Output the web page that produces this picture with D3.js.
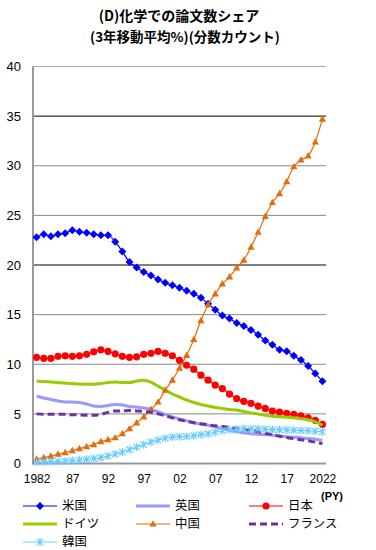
<!DOCTYPE html>
<html><head><meta charset="utf-8">
<script src="https://cdn.jsdelivr.net/npm/d3@7"></script>
<style>
body{margin:0;background:#fff;}
svg{display:block;}
</style>
</head><body>
<svg id="c" width="376" height="550"></svg>
<script>
const years = d3.range(1982, 2023);
const tickYears = [1982, 1987, 1992, 1997, 2002, 2007, 2012, 2017, 2022];
const tickLabels = ["1982", "87", "92", "97", "02", "07", "12", "17", "2022"];
const yTicks = [0, 5, 10, 15, 20, 25, 30, 35, 40];

const usa = [22.8,23.1,22.9,23.1,23.2,23.5,23.35,23.25,23.1,23.0,23.0,22.35,21.35,20.3,19.75,19.3,18.95,18.55,18.2,17.95,17.7,17.4,17.1,16.7,16.1,15.5,14.9,14.6,14.15,13.85,13.45,12.97,12.4,11.96,11.46,11.3,10.86,10.42,9.82,9.08,8.28];
const uk = [6.8,6.6,6.45,6.3,6.2,6.2,6.15,6.0,5.8,5.75,5.85,5.95,5.9,5.75,5.7,5.6,5.45,5.2,4.95,4.7,4.5,4.3,4.1,3.95,3.85,3.7,3.5,3.35,3.2,3.1,3.0,2.95,2.9,2.85,2.78,2.7,2.65,2.6,2.52,2.45,2.35];
const japan = [10.7,10.6,10.6,10.8,10.85,10.8,10.85,11.0,11.25,11.45,11.3,11.05,10.8,10.7,10.75,11.0,11.1,11.3,11.1,10.85,10.4,9.9,9.5,8.9,8.4,7.9,7.55,7.0,6.55,6.26,6.06,5.79,5.55,5.28,5.17,5.06,4.95,4.8,4.6,4.35,3.95];
const germany = [8.3,8.25,8.2,8.15,8.1,8.05,8.0,7.98,7.98,8.05,8.15,8.2,8.15,8.15,8.3,8.4,8.2,7.8,7.4,7.0,6.7,6.4,6.15,5.95,5.8,5.65,5.55,5.45,5.38,5.25,5.1,4.98,4.85,4.75,4.7,4.65,4.6,4.5,4.4,4.2,3.85];
const china = [0.45,0.6,0.75,0.95,1.1,1.3,1.5,1.7,1.9,2.2,2.4,2.6,3.0,3.5,4.1,4.7,5.45,6.2,7.4,8.4,9.6,10.9,12.5,14.4,16.0,17.1,18.1,18.8,19.7,20.5,21.8,23.3,24.9,26.3,27.2,28.4,29.9,30.6,31.0,32.4,34.7];
const france = [5.0,4.95,4.95,4.95,4.95,4.9,4.9,4.85,4.85,4.95,5.15,5.3,5.3,5.35,5.3,5.25,5.15,5.0,4.8,4.6,4.4,4.25,4.1,4.0,3.9,3.8,3.72,3.64,3.55,3.45,3.32,3.2,3.05,2.9,2.75,2.62,2.5,2.4,2.28,2.15,2.0];
const korea = [0.15,0.17,0.2,0.22,0.25,0.3,0.35,0.42,0.5,0.6,0.75,0.95,1.15,1.4,1.65,1.9,2.15,2.35,2.55,2.65,2.7,2.72,2.8,2.9,3.0,3.15,3.3,3.4,3.45,3.5,3.5,3.48,3.45,3.42,3.4,3.38,3.35,3.32,3.3,3.25,3.2];

const seriesNames = ["米国","英国","日本","ドイツ","中国","フランス","韓国"];
const seriesValues = [usa, uk, japan, germany, china, france, korea];
const seriesColors = ["#0000FF","#9999FF","#FF0000","#99CC00","#E46C0A","#7030A0","#66CCFF"];
const seriesWidths = [1.2, 3, 1.2, 3, 1.2, 3, 1.2];
const seriesDash = [null, null, null, null, null, "7,4", null];
const seriesMarker = ["diamond", null, "circle", null, "triangle", null, "star"];

const svg = d3.select("#c");
const L = 33, R = 326, T = 66.5, B = 463.5;
const x = d3.scalePoint().domain(years).range([L, R]).padding(0.5);
const y = d3.scaleLinear().domain([0, 40]).range([B, T]);

// title
const title = svg.append("g").attr("font-family", "'Noto Sans CJK JP', sans-serif")
  .attr("font-weight", "bold").attr("font-size", "14px").attr("fill", "#000").attr("text-anchor", "middle");
title.append("text").attr("x", 179).attr("y", 21).text("(D)化学での論文数シェア");
title.append("text").attr("x", 185).attr("y", 42).attr("font-size", "13.5px").text("(3年移動平均%)(分数カウント)");

// gridlines
const gridColor = v => (v === 35 || v === 20) ? "#000" : (v === 40 ? "#aaa" : "#888");
svg.append("g").selectAll("line").data(yTicks.filter(v => v > 0)).join("line")
  .attr("x1", L).attr("x2", R).attr("y1", d => y(d)).attr("y2", d => y(d))
  .attr("stroke", d => gridColor(d)).attr("stroke-width", 1);

// y axis
const yAxis = svg.append("g").attr("transform", `translate(${L},0)`)
  .call(d3.axisLeft(y).tickValues(yTicks).tickSize(0).tickPadding(12));
yAxis.select(".domain").remove();
yAxis.selectAll("text").attr("font-family", "'Liberation Sans', Arial, sans-serif").attr("font-size", "13px").attr("fill", "#000");

// x axis
const xAxis = svg.append("g").attr("transform", `translate(0,${B})`)
  .call(d3.axisBottom(x).tickValues(tickYears).tickFormat((d, i) => tickLabels[i]).tickSize(0).tickPadding(11));
xAxis.select(".domain").remove();
xAxis.selectAll("text").attr("font-family", "'Liberation Sans', Arial, sans-serif").attr("font-size", "12px").attr("fill", "#000");

// axis lines
svg.append("line").attr("x1", L).attr("x2", L).attr("y1", T).attr("y2", B + 1).attr("stroke", "#999").attr("stroke-width", 2);
svg.append("line").attr("x1", L).attr("x2", R).attr("y1", B).attr("y2", B).attr("stroke", "#999").attr("stroke-width", 2);

svg.append("text").attr("x", 332).attr("y", 500).attr("text-anchor", "middle")
  .attr("font-family", "'Liberation Sans', Arial, sans-serif").attr("font-weight", "bold").attr("font-size", "11px").text("(PY)");

function markerPath(type) {
  if (type === "diamond") return "M0,-4L4,0L0,4L-4,0Z";
  if (type === "triangle") return "M0,-3.8L3.6,2.6L-3.6,2.6Z";
  if (type === "star") return "M-3.2,-3.2L3.2,3.2M-3.2,3.2L3.2,-3.2M0,-4L0,4";
  return null;
}
function drawMarker(g, type, color, cx, cy) {
  if (!type) return;
  if (type === "circle") {
    g.append("circle").attr("cx", cx).attr("cy", cy).attr("r", 3.6).attr("fill", color);
  } else if (type === "star") {
    g.append("path").attr("transform", `translate(${cx},${cy})`).attr("d", markerPath(type))
      .attr("stroke", color).attr("stroke-width", 1.2).attr("fill", "none");
  } else {
    g.append("path").attr("transform", `translate(${cx},${cy})`).attr("d", markerPath(type)).attr("fill", color);
  }
}

const line = d3.line().x((d, i) => x(years[i])).y(d => y(d)).curve(d3.curveMonotoneX);
const plot = svg.append("g");
seriesValues.forEach((vals, si) => {
  const g = plot.append("g");
  g.append("path").datum(vals).attr("d", line).attr("fill", "none")
    .attr("stroke", seriesColors[si]).attr("stroke-width", seriesWidths[si])
    .attr("stroke-dasharray", seriesDash[si]).attr("stroke-linejoin", "round");
  if (seriesMarker[si]) {
    vals.forEach((v, i) => drawMarker(g, seriesMarker[si], seriesColors[si], x(years[i]), y(v)));
  }
});

// legend
const legX = [23, 136, 249];
const legY = [506, 524, 542];
const leg = svg.append("g");
seriesNames.forEach((name, si) => {
  const col = si % 3, row = Math.floor(si / 3);
  const lx = legX[col], ly = legY[row];
  const g = leg.append("g");
  g.append("line").attr("x1", lx).attr("x2", lx + 34).attr("y1", ly).attr("y2", ly)
    .attr("stroke", seriesColors[si]).attr("stroke-width", seriesWidths[si])
    .attr("stroke-dasharray", seriesDash[si]);
  drawMarker(g, seriesMarker[si], seriesColors[si], lx + 17, ly);
  g.append("text").attr("x", lx + 39).attr("y", ly + 4.3)
    .attr("font-family", "'Noto Sans CJK JP', sans-serif").attr("font-size", "12.4px").attr("fill", "#000").text(name);
});
</script>
</body></html>
